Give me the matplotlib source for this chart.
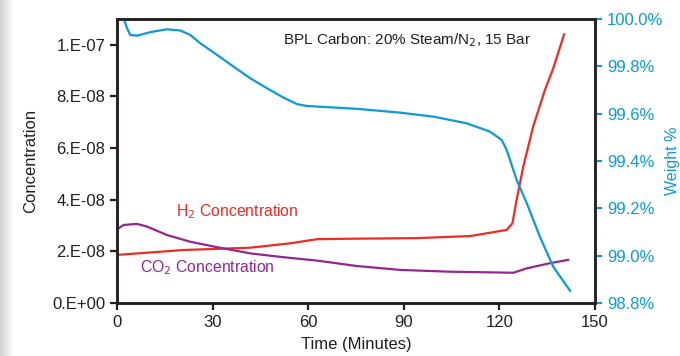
import numpy as np
import matplotlib.pyplot as plt

plt.rcParams['font.family'] = ['Liberation Sans', 'DejaVu Sans']

# data
h2_time = [0, 20.9, 41.8, 54.4, 62.8, 75.3, 94.0, 110.8, 118.1, 122.3, 124.1, 125.4, 127.5,
           130.6, 134.3, 136.8, 140.3]
h2_conc = [1.86e-8, 2.05e-8, 2.14e-8, 2.31e-8, 2.47e-8, 2.49e-8, 2.51e-8, 2.59e-8, 2.74e-8, 2.83e-8,
           3.09e-8, 3.99e-8, 5.28e-8, 6.83e-8, 8.25e-8, 9.05e-8, 1.04e-7]

co2_time = [0, 2.1, 6.3, 9.4, 15.7, 23.0, 31.4, 41.8, 52.3, 62.8, 75.3, 88.8, 104.5, 124.4,
            128.6, 135.9, 141.6]
co2_conc = [2.85e-8, 3.02e-8, 3.06e-8, 2.96e-8, 2.63e-8, 2.37e-8, 2.16e-8, 1.92e-8, 1.77e-8, 1.64e-8,
            1.43e-8, 1.28e-8, 1.21e-8, 1.17e-8, 1.34e-8, 1.54e-8, 1.67e-8]

wt_time = [0, 2.29, 3.14, 4.17, 6.28, 10.45, 15.69, 19.86, 23.0, 26.14, 31.38, 36.62, 41.83, 47.07,
           52.31, 56.48, 59.62, 75.31, 88.8, 99.3, 109.7, 117.0, 120.7, 122.3, 125.4, 128.6, 132.7,
           136.9, 142.2]
wt_pct = [100.3, 99.996, 99.961, 99.932, 99.929, 99.944, 99.956, 99.951, 99.932, 99.897, 99.848,
          99.798, 99.749, 99.707, 99.667, 99.640, 99.632, 99.620, 99.604, 99.587, 99.559, 99.524,
          99.489, 99.446, 99.320, 99.221, 99.080, 98.953, 98.851]

C_BLUE = '#0a9bd8'
C_RED = '#ee2b24'
C_PURPLE = '#93278f'
C_DARK = '#231f20'

fig = plt.figure(figsize=(6.8, 3.56), dpi=100)
ax = fig.add_axes([0.172, 0.149, 0.703, 0.798])

# left shadow strip
sh = fig.add_axes([0, 0, 0.02, 1])
sh.imshow(np.linspace(0.82, 1.0, 50)[None, :], cmap='gray', vmin=0, vmax=1, aspect='auto')
sh.axis('off')

ax.plot(h2_time, h2_conc, color=C_RED, lw=1.6)
ax.plot(co2_time, co2_conc, color=C_PURPLE, lw=1.6)
ax.set_xlim(0, 150)
ax.set_ylim(0, 1.1e-7)
ax.set_xticks([0, 30, 60, 90, 120, 150])
ax.set_yticks([0, 2e-8, 4e-8, 6e-8, 8e-8, 1e-7])
ax.set_yticklabels(['0.E+00', '2.E-08', '4.E-08', '6.E-08', '8.E-08', '1.E-07'])
ax.tick_params(labelsize=12, colors=C_DARK, width=1.6, length=5)
ax.set_xlabel('Time (Minutes)', fontsize=12, color=C_DARK, labelpad=5)
ax.set_ylabel('Concentration', fontsize=12, color=C_DARK, labelpad=10)
for s in ax.spines.values():
    s.set_linewidth(1.8)
    s.set_color(C_DARK)

ax2 = ax.twinx()
ax2.plot(wt_time, wt_pct, color=C_BLUE, lw=1.6)
ax2.set_ylim(98.8, 100.0)
ax2.set_yticks([98.8, 99.0, 99.2, 99.4, 99.6, 99.8, 100.0])
ax2.set_yticklabels([f'{v:.1f}%' for v in [98.8, 99.0, 99.2, 99.4, 99.6, 99.8, 100.0]])
ax2.tick_params(labelsize=12, colors=C_BLUE, width=1.6, length=5)
ax2.set_ylabel('Weight %', fontsize=11.5, color=C_BLUE, labelpad=1)
for s in ax2.spines.values():
    s.set_linewidth(1.8)
    s.set_color(C_DARK)

ax.text(52, 0.926, 'BPL Carbon: 20% Steam/N$_2$, 15 Bar', transform=ax.get_xaxis_transform(),
        ha='left', va='center', fontsize=11, color=C_DARK)
ax.text(18.5, 3.52e-8, 'H$_2$ Concentration', color=C_RED, fontsize=11.3, va='center')
ax.text(7.3, 1.37e-8, 'CO$_2$ Concentration', color=C_PURPLE, fontsize=11.3, va='center')

fig.savefig('out.png', dpi=100)
